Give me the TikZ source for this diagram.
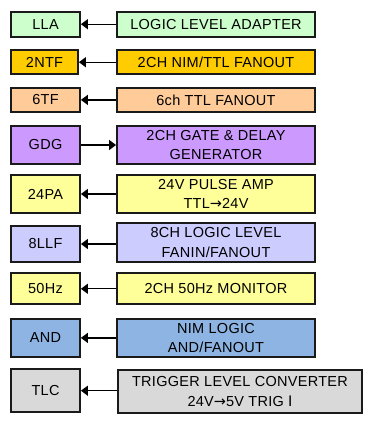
\documentclass[tikz,border=0pt]{standalone}
\usepackage{fontspec}
\setmainfont[LetterSpace=2]{Liberation Sans}
\newfontfamily\symfont{DejaVu Sans}
\usetikzlibrary{arrows.meta}
\definecolor{cLLA}{HTML}{CCFFCC}
\definecolor{cNTF}{HTML}{FFCC00}
\definecolor{cTF}{HTML}{FFCC99}
\definecolor{cGDG}{HTML}{CC99FF}
\definecolor{cPA}{HTML}{FFFF99}
\definecolor{cLLF}{HTML}{CCCCFF}
\definecolor{cAND}{HTML}{8DB4E2}
\definecolor{cTLC}{HTML}{D9D9D9}
\definecolor{edge}{HTML}{1A1A1A}
\tikzset{
  box/.style={draw=edge, line width=1.8pt, inner sep=0pt, align=center,
    font=\fontsize{14.5pt}{19.5pt}\selectfont},
  lbox/.style={box, minimum width=69pt},
  rbox/.style={box, minimum width=198pt},
  arr/.style={draw=black, line width=1.3pt, -{Triangle[length=7pt,width=10pt]}}
}
\begin{document}
\begin{tikzpicture}[x=1pt,y=-1pt]
\useasboundingbox (0,0) rectangle (374,436);
% row 1
\node[lbox, fill=cLLA, minimum height=25pt] (l1) at (45.5,24.2) {LLA};
\node[rbox, fill=cLLA, minimum height=25pt] (r1) at (216,24.2) {LOGIC LEVEL ADAPTER};
% row 2
\node[lbox, fill=cNTF, minimum width=67pt, minimum height=23.7pt] (l2) at (44.5,62.2) {2NTF};
\node[rbox, fill=cNTF, minimum height=23.7pt] (r2) at (216,62.2) {2CH NIM/TTL FANOUT};
% row 3
\node[lbox, fill=cTF, minimum height=23.7pt] (l3) at (45.5,99.9) {6TF};
\node[rbox, fill=cTF, minimum height=23.7pt] (r3) at (216,99.9) {6ch TTL FANOUT};
% row 4
\node[lbox, fill=cGDG, minimum height=38.6pt] (l4) at (45.5,145) {GDG};
\node[rbox, fill=cGDG, minimum height=38.6pt] (r4) at (216,145) {2CH GATE \& DELAY\\GENERATOR};
% row 5
\node[lbox, fill=cPA, minimum height=38.6pt] (l5) at (45.5,194) {24PA};
\node[rbox, fill=cPA, minimum height=38.6pt] (r5) at (216,194) {24V PULSE AMP\\TTL{\symfont →}24V};
% row 6
\node[lbox, fill=cLLF, minimum height=36pt] (l6) at (45.5,244) {8LLF};
\node[rbox, fill=cLLF, minimum height=38.4pt] (r6) at (216,242.5) {8CH LOGIC LEVEL\\FANIN/FANOUT};
% row 7
\node[lbox, fill=cPA, minimum height=31pt] (l7) at (45.5,288.8) {50Hz};
\node[rbox, fill=cPA, minimum height=31pt] (r7) at (216,288.8) {2CH 50Hz MONITOR};
% row 8
\node[lbox, fill=cAND, minimum height=38.3pt] (l8) at (45.5,337.9) {AND};
\node[rbox, fill=cAND, minimum height=38.3pt] (r8) at (216,337.9) {NIM LOGIC\\AND/FANOUT};
% row 9
\node[lbox, fill=cTLC, minimum height=43.3pt] (l9) at (45.5,390.7) {TLC};
\node[box, fill=cTLC, minimum width=244.6pt, minimum height=42.7pt] (r9) at (240,391.3) {TRIGGER LEVEL CONVERTER\\24V{\symfont →}5V TRIG {\symfont Ⅰ}};
% arrows
\foreach \i in {1,2,3,5,6,7,8,9}{
  \draw[arr] (r\i.west |- l\i.east) -- (l\i.east);
}
\draw[arr] (l4.east) -- (r4.west |- l4.east);
\end{tikzpicture}
\end{document}
